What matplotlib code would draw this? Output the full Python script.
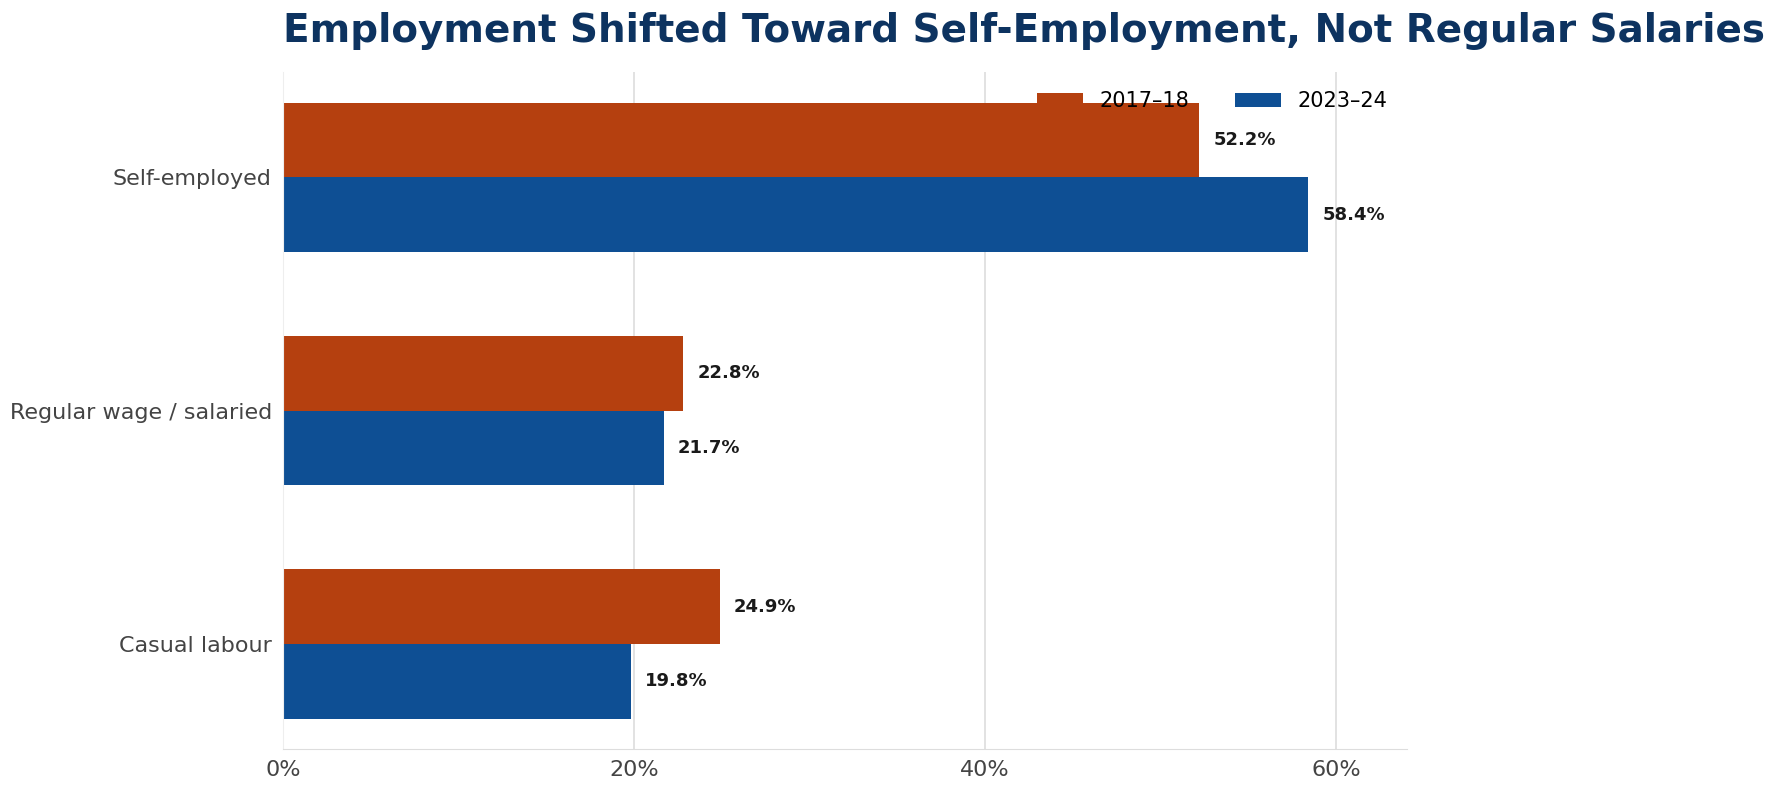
import matplotlib
matplotlib.use("Agg")
import matplotlib.pyplot as plt
import numpy as np

categories = ["Self-employed", "Regular wage / salaried", "Casual labour"]
v2017 = [52.2, 22.8, 24.9]
v2023 = [58.4, 21.7, 19.8]
series_labels = ["2017–18", "2023–24"]
xticks = [0, 20, 40, 60]

fig = plt.figure(figsize=(17.75, 7.96), dpi=100)
ax = fig.add_axes([0.1594, 0.059, 0.633, 0.85])
y = np.arange(len(categories))
h = 0.32
c1, c2 = "#b5400f", "#0e4f94"
b1 = ax.barh(y - h/2, v2017, height=h, color=c1, label=series_labels[0])
b2 = ax.barh(y + h/2, v2023, height=h, color=c2, label=series_labels[1])
for bars, vals in ((b1, v2017), (b2, v2023)):
    for b, v in zip(bars, vals):
        ax.text(v + 0.8, b.get_y() + b.get_height()/2, f"{v:.1f}%", va="center",
                ha="left", fontsize=13, fontweight="bold", color="#1a1a1a")
ax.set_yticks(y)
ax.set_yticklabels(categories, fontsize=16, color="#444444")
ax.invert_yaxis()
ax.set_ylim(2.45, -0.45)
ax.set_xlim(0, 64)
ax.set_xticks(xticks)
ax.set_xticklabels([f"{t}%" for t in xticks], fontsize=16, color="#444444")
ax.tick_params(length=0, pad=8)
ax.grid(axis="x", color="#dddddd", linewidth=1.2)
ax.set_axisbelow(True)
for s in ["top", "right"]:
    ax.spines[s].set_visible(False)
ax.spines["left"].set_color("#eeeeee")
ax.spines["bottom"].set_color("#dddddd")
ax.legend(loc="upper right", ncol=2, frameon=False, fontsize=15,
          bbox_to_anchor=(1.0, 1.0), handlelength=2.2, columnspacing=2.2)
ax.set_title("Employment Shifted Toward Self-Employment, Not Regular Salaries",
             loc="left", fontsize=28, fontweight="bold", color="#0d3360", pad=22)
fig.savefig("out.png", dpi=100)
